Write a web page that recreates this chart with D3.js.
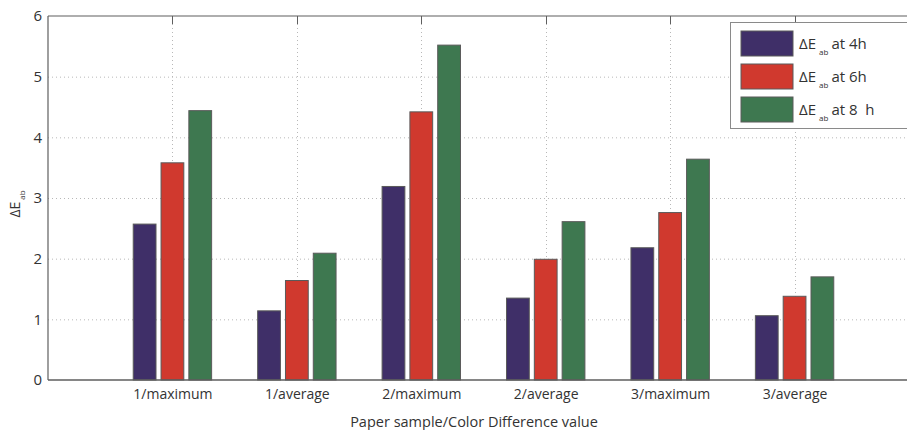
<!DOCTYPE html>
<html>
<head>
<meta charset="utf-8">
<script src="https://cdn.jsdelivr.net/npm/d3@7/dist/d3.min.js"></script>
<style>
  html, body { margin: 0; padding: 0; background: #fff; }
  svg { display: block; font-family: "Open Sans", "DejaVu Sans", sans-serif; }
</style>
</head>
<body>
<svg id="chart" width="907" height="430"></svg>
<script>
// Paper samples and the colour difference measure per sample
const categories = ["1/maximum", "1/average", "2/maximum", "2/average", "3/maximum", "3/average"];
const seriesNames = ["at 4h", "at 6h", "at 8  h"];
const values4h = [2.57, 1.14, 3.19, 1.35, 2.18, 1.06];
const values6h = [3.58, 1.64, 4.42, 1.99, 2.76, 1.38];
const values8h = [4.44, 2.09, 5.52, 2.61, 3.64, 1.70];
const yTicks = [0, 1, 2, 3, 4, 5, 6];
const colors = ["#3f2f68", "#d0392e", "#3e7850"];

const series = [values4h, values6h, values8h];

const svg = d3.select("#chart");
const plotLeft = 48, plotTop = 16, plotBottom = 380, plotRight = 919;

// x runs over category index, with 0 and 7 as the outer limits
const x = d3.scaleLinear().domain([0, 7]).range([plotLeft, plotRight]);
const y = d3.scaleLinear().domain([0, 6]).range([plotBottom, plotTop]);

const barOffset = 0.2235, barWidth = 0.183;

// dotted grid
const grid = svg.append("g").attr("stroke", "#b8b8b8").attr("stroke-width", 1)
  .attr("stroke-dasharray", "1,3");
grid.selectAll("line.h").data(yTicks.slice(1, -1)).join("line")
  .attr("x1", plotLeft).attr("x2", plotRight)
  .attr("y1", d => y(d) + 0.5).attr("y2", d => y(d) + 0.5);
grid.selectAll("line.v").data(categories).join("line")
  .attr("x1", (d, i) => Math.round(x(i + 1)) + 0.5).attr("x2", (d, i) => Math.round(x(i + 1)) + 0.5)
  .attr("y1", plotTop).attr("y2", plotBottom);

// bars
series.forEach((vals, s) => {
  svg.append("g").selectAll("rect").data(vals).join("rect")
    .attr("x", (d, i) => x(i + 1 + (s - 1) * barOffset - barWidth / 2))
    .attr("width", x(barWidth) - x(0))
    .attr("y", d => y(d))
    .attr("height", d => y(0) - y(d))
    .attr("fill", colors[s])
    .attr("stroke", "#5a5a5a")
    .attr("stroke-width", 1);
});

// axes box
const axisColor = "#5e5e5e";
svg.append("line").attr("x1", plotLeft).attr("x2", plotRight).attr("y1", plotBottom).attr("y2", plotBottom)
  .attr("stroke", axisColor).attr("stroke-width", 1.5);
svg.append("line").attr("x1", plotLeft).attr("x2", plotRight).attr("y1", plotTop).attr("y2", plotTop)
  .attr("stroke", axisColor).attr("stroke-width", 1.2);
svg.append("line").attr("x1", plotLeft).attr("x2", plotLeft).attr("y1", plotTop).attr("y2", plotBottom)
  .attr("stroke", axisColor).attr("stroke-width", 1.2);

// inward tick marks on the top edge
svg.append("g").selectAll("line").data(categories).join("line")
  .attr("x1", (d, i) => Math.round(x(i + 1)) + 0.5).attr("x2", (d, i) => Math.round(x(i + 1)) + 0.5)
  .attr("y1", plotTop).attr("y2", plotTop + 8)
  .attr("stroke", axisColor).attr("stroke-width", 1);

// y tick labels
const yAxis = d3.axisLeft(y).tickValues(yTicks).tickFormat(d3.format("d")).tickSize(0).tickPadding(6);
const yg = svg.append("g").attr("transform", `translate(${plotLeft},0)`).call(yAxis);
yg.select(".domain").remove();
yg.selectAll("text").attr("font-size", 15).attr("fill", "#333")
  .attr("font-family", "'Open Sans', sans-serif");

// x tick labels
const xAxis = d3.axisBottom(x).tickValues(categories.map((d, i) => i + 1))
  .tickFormat((d, i) => categories[i]).tickSize(0).tickPadding(9);
const xg = svg.append("g").attr("transform", `translate(0,${plotBottom})`).call(xAxis);
xg.select(".domain").remove();
xg.selectAll("text").attr("font-size", 14).attr("fill", "#333")
  .attr("font-family", "'Open Sans', sans-serif");

// axis titles
svg.append("text").attr("x", 474).attr("y", 427)
  .attr("text-anchor", "middle").attr("font-size", 14.5).attr("fill", "#333")
  .text("Paper sample/Color Difference value");

const yl = svg.append("text").attr("transform", "translate(20,204) rotate(-90)")
  .attr("text-anchor", "middle").attr("font-size", 14).attr("fill", "#333");
yl.append("tspan").text("ΔE");
yl.append("tspan").attr("font-size", 8).attr("dy", 5).attr("dx", 2).text("ab");

// legend
const lg = svg.append("g");
lg.append("rect").attr("x", 730.5).attr("y", 22.5).attr("width", 190).attr("height", 106)
  .attr("fill", "#fff").attr("stroke", "#8a8a8a").attr("stroke-width", 1);
seriesNames.forEach((name, i) => {
  const yy = 31 + i * 33;
  lg.append("rect").attr("x", 741).attr("y", yy).attr("width", 52).attr("height", 25)
    .attr("fill", colors[i]).attr("stroke", "#5a5a5a").attr("stroke-width", 1);
  const t = lg.append("text").attr("x", 799).attr("y", yy + 18)
    .attr("font-size", 15).attr("fill", "#333").attr("xml:space", "preserve");
  t.append("tspan").text("ΔE");
  t.append("tspan").attr("font-size", 8).attr("dy", 6).attr("dx", 3).text("ab");
  t.append("tspan").attr("dy", -6).attr("dx", 3).text(name);
});
</script>
</body>
</html>
